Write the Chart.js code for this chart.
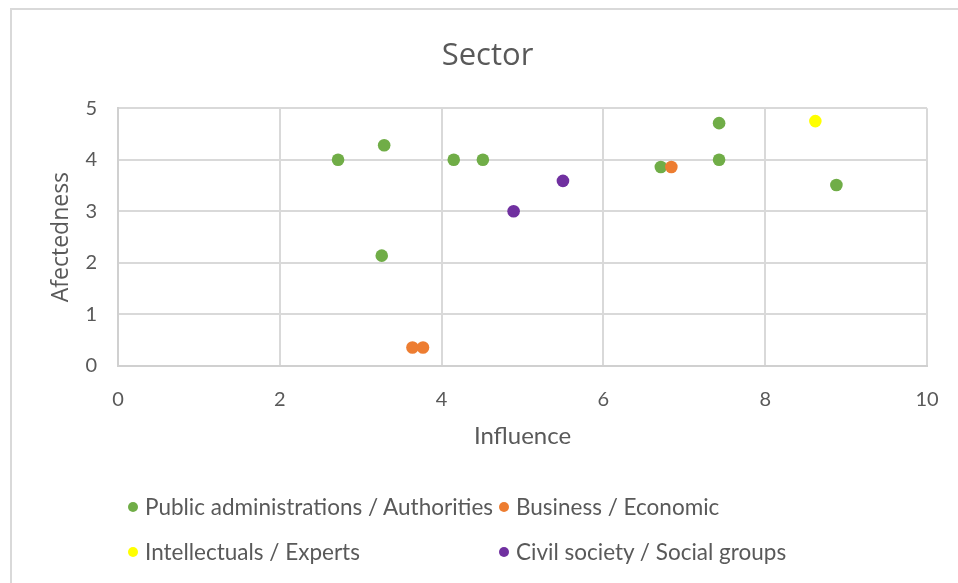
<!DOCTYPE html>
<html>
<head>
<meta charset="utf-8">
<script src="https://cdn.jsdelivr.net/npm/chart.js@4.4.0/dist/chart.umd.min.js"></script>
<style>
  body { margin: 0; background: #fff; overflow: hidden; width: 958px; height: 583px; position: relative; }
  #box { position: absolute; left: 10px; top: 8px; width: 990px; height: 600px; border-left: 2px solid #d9d9d9; border-top: 2px solid #d9d9d9; }
  #chart { display: block; }
  .item { position: absolute; height: 28px; line-height: 28px; font-family: Lato, sans-serif; font-size: 22.5px; color: #595959; white-space: nowrap; }
  .dot { position: absolute; left: 0; top: 9px; width: 10px; height: 10px; border-radius: 50%; }
  .item span { position: absolute; left: 17px; top: 0; }
</style>
</head>
<body>
<div id="box"><canvas id="chart" width="955" height="573"></canvas></div>
<div id="legend"></div>
<script>

// sector scatter - influence vs affectedness

const categories = ['Public administrations / Authorities', 'Business / Economic', 'Intellectuals / Experts', 'Civil society / Social groups'];
const colors = ['#70ad47', '#ed7d31', '#ffff00', '#7030a0'];

const publicX = [2.72, 3.29, 3.26, 4.15, 4.51, 6.71, 7.43, 7.43, 8.88];
const publicY = [4.0, 4.28, 2.14, 4.0, 4.0, 3.86, 4.71, 4.0, 3.51];

const businessX = [3.64, 3.77, 6.84];
const businessY = [0.36, 0.36, 3.86];

const expertsX = [8.62];
const expertsY = [4.75];

const civilX = [4.89, 5.5];
const civilY = [3.0, 3.59];

const xTicks = [0, 2, 4, 6, 8, 10];
const yTicks = [0, 1, 2, 3, 4, 5];

const seriesX = [publicX, businessX, expertsX, civilX];
const seriesY = [publicY, businessY, expertsY, civilY];

function points(xs, ys) {
  return xs.map((x, i) => ({ x: x, y: ys[i] }));
}

const datasets = categories.map((name, i) => ({
  label: name,
  data: points(seriesX[i], seriesY[i]),
  backgroundColor: colors[i],
  borderWidth: 0,
  pointRadius: 6.3,
  pointHoverRadius: 6.3,
  order: categories.length - i
}));

const grey = '#595959';
const gridColor = '#d9d9d9';

const chart = new Chart(document.querySelector('#chart'), {
  type: 'scatter',
  data: { datasets: datasets },
  options: {
    responsive: false,
    animation: false,
    layout: {
      padding: { left: 36, right: 40, top: 0, bottom: 132 }
    },
    plugins: {
      legend: { display: false },
      tooltip: { enabled: false },
      title: {
        display: true,
        text: 'Sector',
        color: grey,
        font: { family: 'Open Sans', size: 31, weight: 'normal' },
        padding: { top: 28, bottom: 33 }
      }
    },
    scales: {
      x: {
        type: 'linear',
        min: 0,
        max: 10,
        afterBuildTicks: (scale) => { scale.ticks = xTicks.map(v => ({ value: v })); },
        afterFit: (scale) => { scale.height = 85; },
        grid: { color: gridColor, lineWidth: 2, drawTicks: false },
        border: { color: '#d0d0d0', width: 2 },
        ticks: { color: grey, padding: 22, font: { family: 'Lato', size: 20 } },
        title: {
          display: true,
          text: 'Influence',
          color: grey,
          font: { family: 'Lato', size: 24 },
          padding: 0
        }
      },
      y: {
        type: 'linear',
        min: 0,
        max: 5,
        afterBuildTicks: (scale) => { scale.ticks = yTicks.map(v => ({ value: v })); },
        afterFit: (scale) => { scale.width = 70; },
        grid: { color: gridColor, lineWidth: 2, drawTicks: false },
        border: { color: '#d0d0d0', width: 2 },
        ticks: { color: grey, padding: 21, font: { family: 'Lato', size: 20 } },
        title: {
          display: true,
          text: 'Afectedness',
          color: grey,
          font: { family: 'Open Sans', size: 23 },
          padding: 0
        }
      }
    }
  }
});

// legend laid out in two columns like the excel one

const legendCols = [133, 504];
const legendRows = [507, 552];
const legend = document.querySelector('#legend');

categories.forEach((name, i) => {
  const item = document.createElement('div');
  item.className = 'item';
  item.style.left = (legendCols[i % 2] - 5) + 'px';
  item.style.top = (legendRows[Math.floor(i / 2)] - 14) + 'px';
  const dot = document.createElement('div');
  dot.className = 'dot';
  dot.style.background = colors[i];
  const label = document.createElement('span');
  label.textContent = name;
  item.appendChild(dot);
  item.appendChild(label);
  legend.appendChild(item);
});

</script>
</body>
</html>
